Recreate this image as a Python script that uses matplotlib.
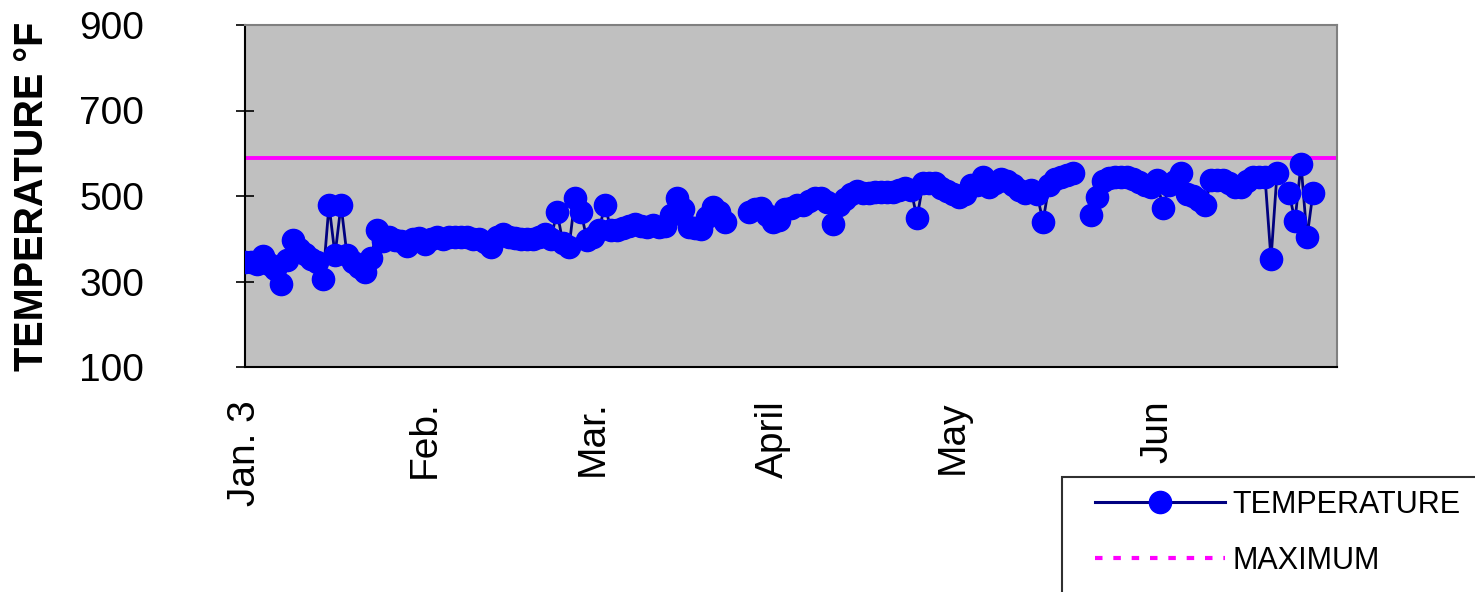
import matplotlib
matplotlib.use("Agg")
import matplotlib.pyplot as plt
from matplotlib.lines import Line2D
from matplotlib.patches import Rectangle
import numpy as np

plt.rcParams["font.family"] = ["Liberation Sans", "DejaVu Sans"]

# Temperaturwerte (None = kein Messwert)
temperature = [
    346, 345, 340, 360, 340, 330, 293, 350, 398, 375,
    365, 352, 345, 307, 479, 362, 479, 362, 346, 335,
    323, 354, 420, 395, 405, 398, 395, 382, 400, 402,
    388, 400, 403, 400, 403, 403, 403, 403, 400, 400,
    392, 380, 405, 410, 405, 402, 400, 400, 400, 405,
    410, 400, 463, 390, 380, 495, 463, 397, 405, 420,
    479, 420, 420, 425, 430, 435, 430, 428, 432, 428,
    430, 455, 495, 470, 428, 425, 422, 452, 475, 462,
    440, None, None, None, 463, 470, 472, 455, 440, 445,
    470, 472, 479, 480, 488, 495, 495, 485, 434, 478,
    492, 505, 512, 508, 508, 510, 510, 510, 510, 515,
    518, 515, 448, 530, 530, 530, 518, 512, 505, 498,
    505, 525, 525, 545, 522, 530, 540, 535, 525, 515,
    508, 514, 505, 440, 525, 540, 545, 548, 553, None,
    None, 456, 498, 535, 542, 545, 545, 545, 540, 532,
    525, 520, 537, 471, 525, 535, 553, 505, 500, 490,
    479, 537, 537, 537, 530, 522, 522, 535, 545, 545,
    545, 352, 553, None, 508, 442, 575, 403, 508,
]
maximum = 590

tick_pos = [0, 30, 58, 88, 118, 152]
tick_labels = ["Jan. 3", "Feb.", "Mar.", "April", "May", "Jun"]
y_ticks = [100, 300, 500, 700, 900]

temp = np.array([np.nan if t is None else t for t in temperature], dtype=float)
idx = np.arange(len(temp))
x_end = 182

fig = plt.figure(figsize=(14.75, 5.92), dpi=100)
ax = fig.add_axes([245 / 1475, 1 - 367 / 592, 1092 / 1475, 342 / 592])
ax.set_facecolor("#C0C0C0")

ax.plot([0, x_end], [maximum, maximum], color="#FF00FF", lw=2.8, zorder=2)
ax.plot(idx, temp, color="#000080", lw=2, marker="o", ms=16,
        mfc="#0000FF", mec="#0000FF", zorder=3)

ax.set_xlim(0, x_end)
ax.set_ylim(100, 900)
ax.set_yticks(y_ticks)
ax.set_xticks(tick_pos)
ax.set_xticklabels(tick_labels, rotation=90, fontsize=28)
ax.tick_params(axis="x", length=0, pad=24)
ax.tick_params(axis="y", direction="inout", length=13, width=1.2,
               labelsize=28, pad=66)

for s in ["top", "right"]:
    ax.spines[s].set_color("#808080")
    ax.spines[s].set_linewidth(1.5)
for s in ["left", "bottom"]:
    ax.spines[s].set_color("black")
    ax.spines[s].set_linewidth(1.5)

ax.set_ylabel("TEMPERATURE °F", fontsize=28.5, fontweight="bold")
ax.yaxis.set_label_coords(-0.178, 0.5)

# Legendenrahmen (ragt rechts/unten aus dem Bild)
fig.patches.append(Rectangle((1062 / 1475, -0.05), 0.3, 1 - 477 / 592 + 0.05,
                             transform=fig.transFigure, facecolor="white",
                             edgecolor="#303030", lw=1.5))

handles = [
    Line2D([], [], color="#000080", lw=2.2, marker="o", ms=16,
           mfc="#0000FF", mec="#0000FF"),
    Line2D([], [], color="#FF00FF", lw=3, linestyle=(0, (1.8, 2.6))),
]
leg = fig.legend(handles, ["TEMPERATURE", "MAXIMUM"], loc="upper left",
                 bbox_to_anchor=(1095 / 1475, 1 - 490 / 592), fontsize=22,
                 frameon=False, handlelength=4.25, handletextpad=0.26,
                 labelspacing=0.85, borderpad=0, borderaxespad=0)

fig.savefig("out.png", dpi=100)
